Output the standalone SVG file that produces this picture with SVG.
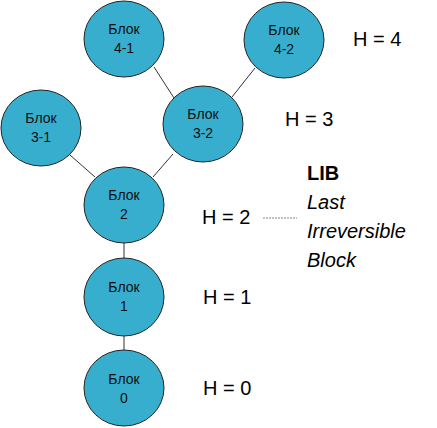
<svg xmlns="http://www.w3.org/2000/svg" width="437" height="428" viewBox="0 0 437 428">
<style>
.n{fill:#37AECD;stroke:#222;stroke-width:1}
.t{font-family:"Liberation Sans",Arial,sans-serif;font-size:14px;fill:#111;text-anchor:middle}
.h{font-family:"Liberation Sans",Arial,sans-serif;font-size:20px;fill:#000}
.e{stroke:#333;stroke-width:1;fill:none}
</style>
<rect width="437" height="428" fill="#fff"/>
<g id="connectors">
<line class="e" x1="124" y1="243" x2="124" y2="258"/>
<line class="e" x1="124" y1="336" x2="124" y2="350"/>
<line class="e" x1="154" y1="67" x2="174" y2="98"/>
<line class="e" x1="255" y1="68" x2="232" y2="97"/>
<line class="e" x1="70" y1="155" x2="95" y2="177"/>
<line class="e" x1="173" y1="154" x2="153" y2="177"/>
<line x1="263" y1="218" x2="297" y2="218" stroke="#666" stroke-width="0.8" stroke-dasharray="2,1"/>
</g>
<g id="b41"><ellipse class="n" cx="124" cy="39" rx="40" ry="38"/><text class="t" x="124" y="34">Блок</text><text class="t" x="124" y="53">4-1</text></g>
<g id="b42"><ellipse class="n" cx="284" cy="40" rx="40" ry="38"/><text class="t" x="284" y="35">Блок</text><text class="t" x="284" y="54">4-2</text></g>
<g id="b31"><ellipse class="n" cx="41" cy="128" rx="40" ry="38"/><text class="t" x="41" y="123">Блок</text><text class="t" x="41" y="142">3-1</text></g>
<g id="b32"><ellipse class="n" cx="203" cy="124" rx="40" ry="38"/><text class="t" x="203" y="119">Блок</text><text class="t" x="203" y="138">3-2</text></g>
<g id="b2"><ellipse class="n" cx="124" cy="205" rx="40" ry="38"/><text class="t" x="124" y="200">Блок</text><text class="t" x="124" y="219">2</text></g>
<g id="b1"><ellipse class="n" cx="124" cy="297" rx="40" ry="39"/><text class="t" x="124" y="292">Блок</text><text class="t" x="124" y="311">1</text></g>
<g id="b0"><ellipse class="n" cx="124" cy="388" rx="40" ry="38"/><text class="t" x="124" y="384">Блок</text><text class="t" x="124" y="403">0</text></g>
<g id="labels">
<text class="h" x="353" y="46">H = 4</text>
<text class="h" x="285" y="126">H = 3</text>
<text class="h" x="202" y="224">H = 2</text>
<text class="h" x="203" y="304">H = 1</text>
<text class="h" x="203" y="395">H = 0</text>
<text class="h" x="307" y="180" font-weight="bold" font-size="18">LIB</text>
<text class="h" x="307" y="209" font-style="italic">Last</text>
<text class="h" x="307" y="238" font-style="italic">Irreversible</text>
<text class="h" x="307" y="267" font-style="italic">Block</text>
</g>
</svg>
